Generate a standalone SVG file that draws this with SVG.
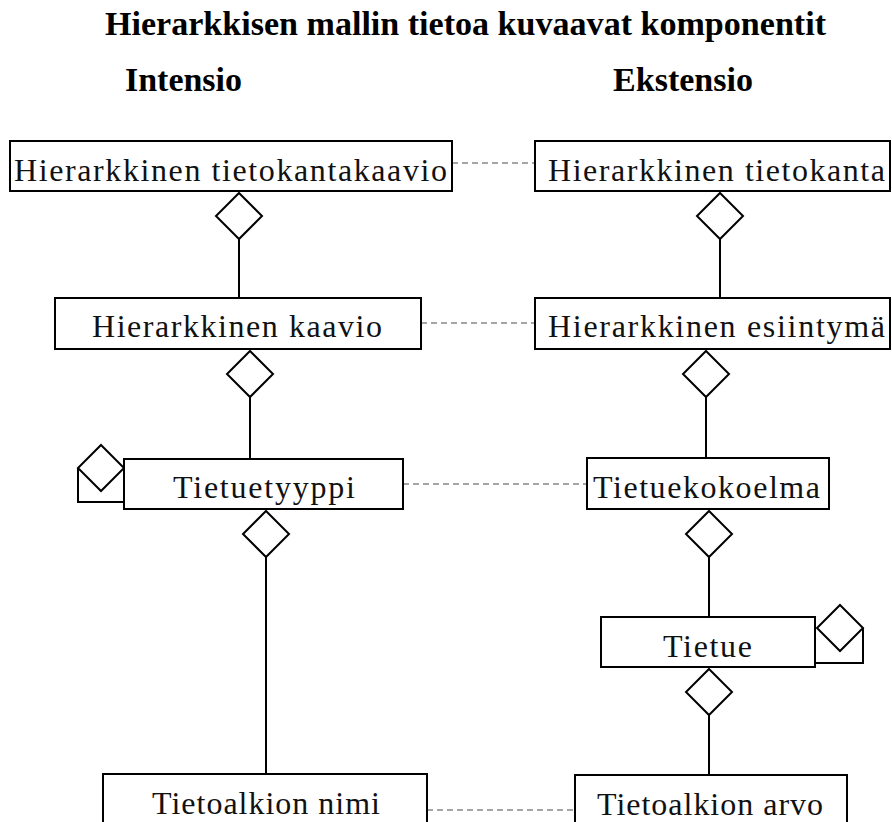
<svg xmlns="http://www.w3.org/2000/svg" width="892" height="822" viewBox="0 0 892 822">
  <style>
    .box { fill: #fff; stroke: #000; stroke-width: 2; }
    .lbl { font-family: "Liberation Serif", "Times New Roman", serif; font-size: 32px; fill: #111; }
    .head { font-family: "Liberation Serif", "Times New Roman", serif; font-weight: bold; font-size: 33px; fill: #000; }
    .agg { fill: #fff; stroke: #000; stroke-width: 2; }
    .line { fill: none; stroke: #000; stroke-width: 2; }
    .dash { fill: none; stroke: #888; stroke-width: 1.5; stroke-dasharray: 6 4; }
  </style>
  <rect width="892" height="822" fill="#fff"/>

  <!-- headings -->
  <text class="head" x="105" y="35" textLength="721" lengthAdjust="spacingAndGlyphs">Hierarkkisen mallin tietoa kuvaavat komponentit</text>
  <text class="head" x="125" y="91" textLength="117" lengthAdjust="spacingAndGlyphs">Intensio</text>
  <text class="head" x="613" y="91" textLength="140" lengthAdjust="spacingAndGlyphs">Ekstensio</text>

  <!-- connectors: aggregations and instance links -->
  <g id="connectors">
    <line class="line" x1="239" y1="239" x2="239" y2="298"/>
    <polygon class="agg" points="239,193 262,216 239,239 216,216"/>
    <line class="line" x1="250" y1="397" x2="250" y2="459"/>
    <polygon class="agg" points="250,351 273,374 250,397 227,374"/>
    <line class="line" x1="266" y1="557" x2="266" y2="774"/>
    <polygon class="agg" points="266,511 289,534 266,557 243,534"/>
    <path class="line" d="M78,468 V502 H124"/>
    <polygon class="agg" points="101,445 124,468 101,491 78,468"/>

    <line class="line" x1="720" y1="239" x2="720" y2="298"/>
    <polygon class="agg" points="720,193 743,216 720,239 697,216"/>
    <line class="line" x1="706" y1="397" x2="706" y2="458"/>
    <polygon class="agg" points="706,351 729,374 706,397 683,374"/>
    <line class="line" x1="709" y1="557" x2="709" y2="617"/>
    <polygon class="agg" points="709,511 732,534 709,557 686,534"/>
    <line class="line" x1="709" y1="715" x2="709" y2="775"/>
    <polygon class="agg" points="709,669 732,692 709,715 686,692"/>
    <path class="line" d="M863,628 V663 H815"/>
    <polygon class="agg" points="840,605 863,628 840,651 817,628"/>

    <line class="dash" x1="452" y1="163" x2="535" y2="163"/>
    <line class="dash" x1="421" y1="323" x2="535" y2="323"/>
    <line class="dash" x1="403" y1="484" x2="587" y2="484"/>
    <line class="dash" x1="427" y1="810" x2="575" y2="810"/>
  </g>

  <!-- intension side -->
  <g id="tietokantakaavio">
    <rect class="box" x="10" y="141" width="442" height="50"/>
    <text class="lbl" x="14" y="181" textLength="433" lengthAdjust="spacing">Hierarkkinen tietokantakaavio</text>
  </g>
  <g id="kaavio">
    <rect class="box" x="55" y="298" width="366" height="51"/>
    <text class="lbl" x="92" y="337" textLength="290" lengthAdjust="spacing">Hierarkkinen kaavio</text>
  </g>
  <g id="tietuetyyppi">
    <rect class="box" x="124" y="459" width="279" height="50"/>
    <text class="lbl" x="173" y="498" textLength="182" lengthAdjust="spacing">Tietuetyyppi</text>
  </g>
  <g id="tietoalkion-nimi">
    <rect class="box" x="103" y="774" width="324" height="50"/>
    <text class="lbl" x="152" y="814" textLength="228" lengthAdjust="spacing">Tietoalkion nimi</text>
  </g>

  <!-- extension side -->
  <g id="tietokanta">
    <rect class="box" x="535" y="141" width="355" height="50"/>
    <text class="lbl" x="548" y="181" textLength="337" lengthAdjust="spacing">Hierarkkinen tietokanta</text>
  </g>
  <g id="esiintyma">
    <rect class="box" x="535" y="298" width="355" height="51"/>
    <text class="lbl" x="548" y="337" textLength="337" lengthAdjust="spacing">Hierarkkinen esiintymä</text>
  </g>
  <g id="tietuekokoelma">
    <rect class="box" x="587" y="458" width="242" height="51"/>
    <text class="lbl" x="593" y="498" textLength="227" lengthAdjust="spacing">Tietuekokoelma</text>
  </g>
  <g id="tietue">
    <rect class="box" x="601" y="617" width="214" height="50"/>
    <text class="lbl" x="663" y="657" textLength="89" lengthAdjust="spacing">Tietue</text>
  </g>
  <g id="tietoalkion-arvo">
    <rect class="box" x="575" y="775" width="272" height="50"/>
    <text class="lbl" x="597" y="815" textLength="226" lengthAdjust="spacing">Tietoalkion arvo</text>
  </g>
</svg>
